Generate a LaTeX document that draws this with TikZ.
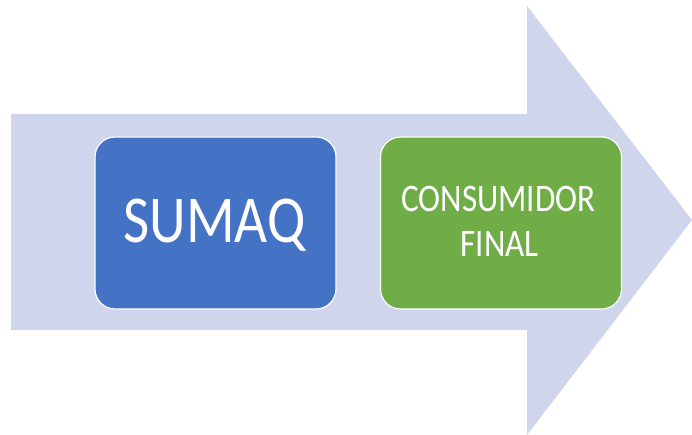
\documentclass[tikz,border=0pt]{standalone}
\usepackage{fontspec}
\setmainfont{Carlito}
\newfontfamily\condfont[FakeStretch=0.85]{Carlito}
\definecolor{arrowfill}{HTML}{CFD5EA}
\definecolor{sblue}{HTML}{4472C4}
\definecolor{sgreen}{HTML}{70AD47}
\tikzset{
  box/.style={draw=white, line width=1.2pt, rounded corners=20pt, minimum width=241pt, minimum height=172pt, inner sep=0pt},
  lbl/.style={text=white, anchor=base, inner sep=0pt, font=\condfont}
}
\begin{document}
\begin{tikzpicture}[x=1pt,y=-1pt]
\useasboundingbox (0,0) rectangle (692,435);
\fill[arrowfill] (11,114) -- (527,114) -- (527,6) -- (692,220) -- (527,435) -- (527,330) -- (11,330) -- cycle;
\node[box, fill=sblue] (sumaq) at (215.5,223) {};
\node[box, fill=sgreen] (consumidor) at (501,223) {};
\node[lbl, font=\condfont\fontsize{67}{67}\selectfont] (t1) at (214.5,243) {SUMAQ};
\node[lbl, font=\condfont\fontsize{39}{45}\selectfont] (t2) at (498.5,212) {CONSUMIDOR};
\node[lbl, font=\condfont\fontsize{39}{45}\selectfont] (t3) at (499.5,257) {FINAL};
\end{tikzpicture}
\end{document}
